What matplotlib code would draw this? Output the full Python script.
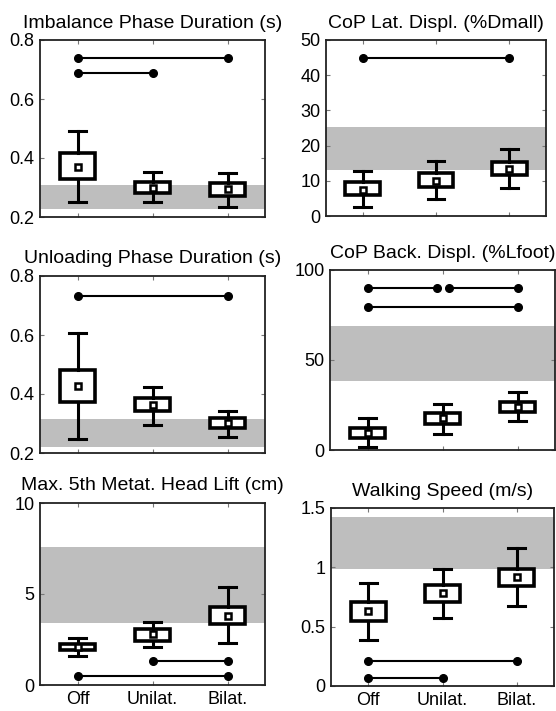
import matplotlib
matplotlib.use("Agg")
import matplotlib.pyplot as plt
from matplotlib.ticker import FuncFormatter

plt.rcParams['font.family'] = ['Liberation Sans', 'DejaVu Sans']

categories = ['Off', 'Unilat.', 'Bilat.']
positions = [1, 2, 3]

titles = ['Imbalance Phase Duration (s)', 'CoP Lat. Displ. (%Dmall)',
          'Unloading Phase Duration (s)', 'CoP Back. Displ. (%Lfoot)',
          'Max. 5th Metat. Head Lift (cm)', 'Walking Speed (m/s)']

# box stats per panel: upper quartile, lower quartile, whisker top, whisker bottom, mean
q3_vals = [[0.417, 0.319, 0.315], [9.6, 12.1, 15.3], [0.481, 0.386, 0.319],
           [12.2, 20.6, 26.7], [2.25, 3.08, 4.29], [0.71, 0.85, 0.99]]
q1_vals = [[0.329, 0.281, 0.271], [5.9, 8.2, 11.6], [0.373, 0.342, 0.285],
           [6.7, 14.4, 21.1], [1.92, 2.42, 3.35], [0.55, 0.71, 0.84]]
whishi_vals = [[0.492, 0.353, 0.349], [12.7, 15.5, 18.9], [0.607, 0.424, 0.342],
               [17.8, 25.6, 32.2], [2.58, 3.46, 5.38], [0.87, 0.99, 1.16]]
whislo_vals = [[0.251, 0.251, 0.234], [2.5, 4.8, 7.9], [0.247, 0.295, 0.254],
               [1.7, 8.9, 16.1], [1.59, 2.09, 2.31], [0.39, 0.57, 0.67]]
mean_vals = [[0.369, 0.298, 0.295], [7.3, 9.9, 13.3], [0.427, 0.363, 0.302],
             [9.4, 17.8, 23.9], [2.1, 2.8, 3.79], [0.63, 0.78, 0.92]]

# healthy reference range (gray band)
band_lo = [0.227, 13.0, 0.220, 38.3, 3.4, 0.99]
band_hi = [0.308, 25.2, 0.315, 69.0, 7.6, 1.42]

# significance bars: (from, to, height)
sig_bars = [[(1, 3, 0.739), (1, 2, 0.688)],
            [(1, 3, 45)],
            [(1, 3, 0.732)],
            [(1, 1.92, 90), (2.08, 3, 90), (1, 3, 79.4)],
            [(2, 3, 1.32), (1, 3, 0.49)],
            [(1, 3, 0.21), (1, 2, 0.07)]]

ylims = [(0.2, 0.8), (0, 50), (0.2, 0.8), (0, 100), (0, 10), (0, 1.5)]
yticks = [[0.2, 0.4, 0.6, 0.8], [0, 10, 20, 30, 40, 50], [0.2, 0.4, 0.6, 0.8],
          [0, 50, 100], [0, 5, 10], [0, 0.5, 1, 1.5]]

# axes boxes in pixels: left, top, right, bottom
W, H = 556, 711
boxes_px = [(40, 40, 265, 217), (326, 40, 546, 216),
            (40, 276, 265, 453), (330, 270, 555, 450),
            (40, 503, 265, 685), (331, 508, 554, 686)]

fig = plt.figure(figsize=(W / 100, H / 100), dpi=100)

for i in range(6):
    l, t, r, b = boxes_px[i]
    ax = fig.add_axes([l / W, 1 - b / H, (r - l) / W, (b - t) / H])

    ax.axhspan(band_lo[i], band_hi[i], color='#bebebe', lw=0, zorder=0)

    stats = []
    for k in range(3):
        stats.append(dict(q1=q1_vals[i][k], q3=q3_vals[i][k],
                          whislo=whislo_vals[i][k], whishi=whishi_vals[i][k],
                          med=mean_vals[i][k], mean=mean_vals[i][k], fliers=[]))
    ax.bxp(stats, positions=positions, widths=0.47, capwidths=0.23,
           showmeans=True, showfliers=False, patch_artist=True,
           boxprops=dict(facecolor='white', edgecolor='black', linewidth=2.6),
           whiskerprops=dict(color='black', linewidth=2.2),
           capprops=dict(color='black', linewidth=2.2),
           medianprops=dict(visible=False),
           meanprops=dict(marker='s', markersize=5, markerfacecolor='white',
                          markeredgecolor='black', markeredgewidth=1.8))

    for x1, x2, y in sig_bars[i]:
        ax.plot([x1, x2], [y, y], '-o', color='black', lw=1.5, ms=5.5, zorder=5)

    ax.set_xlim(0.5, 3.5)
    ax.set_ylim(*ylims[i])
    ax.set_yticks(yticks[i])
    ax.yaxis.set_major_formatter(FuncFormatter(lambda v, p: '%g' % v))
    ax.set_xticks(positions)
    if i >= 4:
        ax.set_xticklabels(categories)
    else:
        ax.set_xticklabels([])
    ax.tick_params(direction='in', length=3, width=0.8, color='#777777',
                   top=True, right=True, labelsize=13, pad=4)
    for s in ax.spines.values():
        s.set_linewidth(1.3)
        s.set_color('#222222')
    ax.set_title(titles[i], fontsize=14, pad=9)

fig.savefig('out.png', dpi=100)
